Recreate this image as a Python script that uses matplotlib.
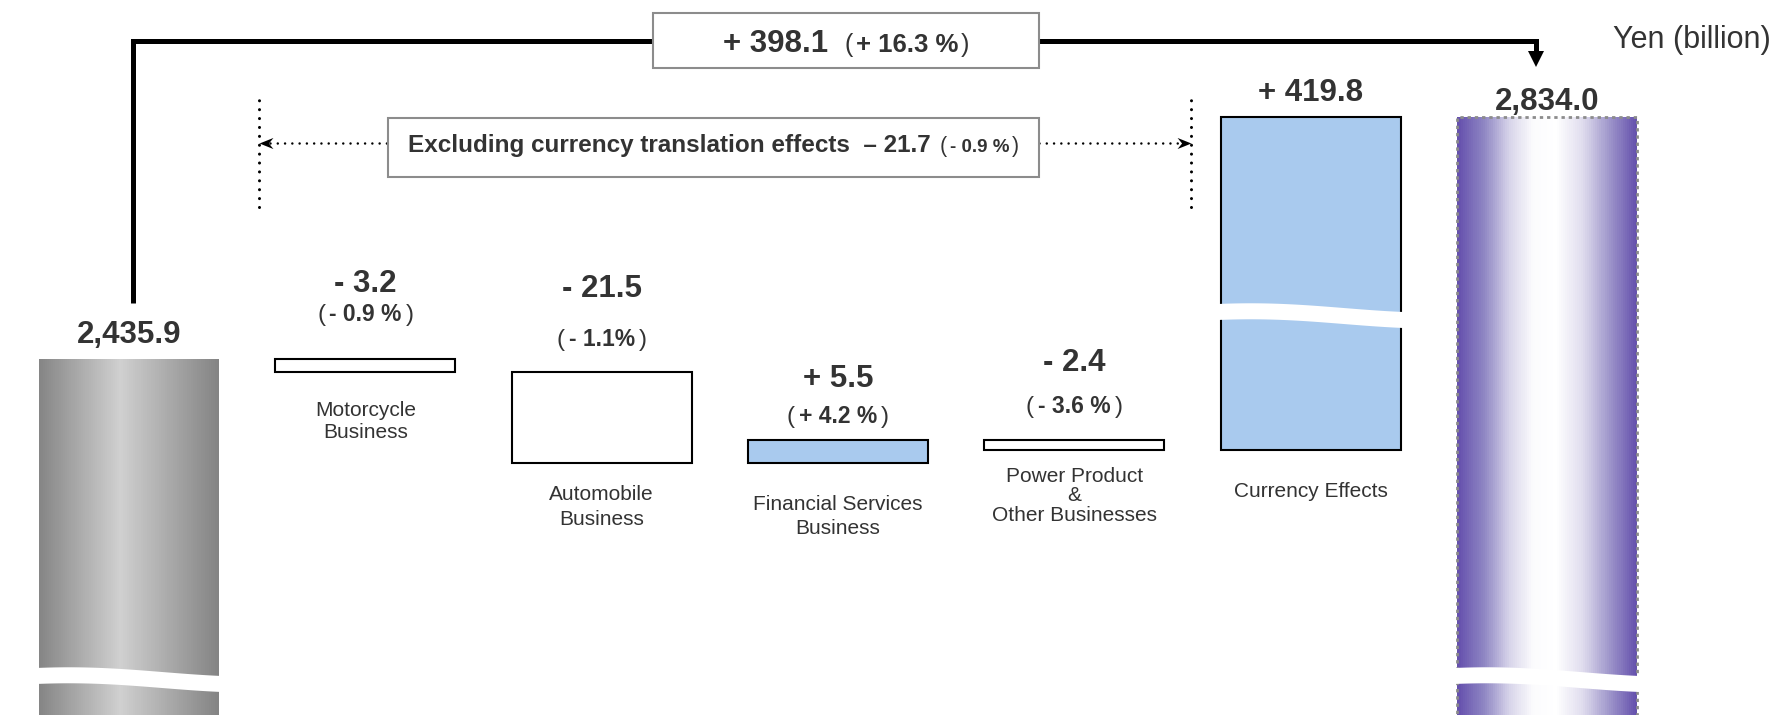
import matplotlib
matplotlib.use('Agg')
import matplotlib.pyplot as plt
import matplotlib.transforms as mtransforms
from matplotlib.colors import LinearSegmentedColormap
from matplotlib.offsetbox import TextArea, HPacker, AnnotationBbox
from matplotlib.patches import Rectangle, Polygon
import numpy as np

plt.rcParams['font.family'] = ['Liberation Sans', 'DejaVu Sans']

# ---- data (Yen billion) ----
start_value = 2435.9
end_value = 2834.0
start_label = '2,435.9'
end_label = '2,834.0'
segments = ['Motorcycle\nBusiness', 'Automobile\nBusiness', 'Financial Services\nBusiness',
            'Power Product\n&\nOther Businesses', 'Currency Effects']
changes = [-3.2, -21.5, 5.5, -2.4, 419.8]
change_labels = ['- 3.2', '- 21.5', '+ 5.5', '- 2.4', '+ 419.8']
pct_labels = ['- 0.9 %', '- 1.1%', '+ 4.2 %', '- 3.6 %', None]
total_label = '+ 398.1'
total_pct = '+ 16.3 %'
excl_label = 'Excluding currency translation effects  \u2013 21.7'
excl_pct = '- 0.9 %'
unit_label = 'Yen (billion)'

INK = '#333333'
BLUE = '#a9caee'
BOXEDGE = '#8c8c8c'
BAR_W = 0.762
H = 715.0

def fy(px):
    # pixel row from the top -> axes fraction
    return 1 - px / H

# broken axis: values above the start level are squeezed
BREAK = start_value
SQUEEZE = 0.1447

def fwd(v):
    v = np.asarray(v, float)
    return np.where(v > BREAK, BREAK + (v - BREAK) * SQUEEZE, v)

def inv(u):
    u = np.asarray(u, float)
    return np.where(u > BREAK, BREAK + (u - BREAK) / SQUEEZE, u)

fig = plt.figure(figsize=(17.8, 7.15), dpi=100)
ax = fig.add_axes([0, 0, 1, 1])
ax.set_axis_off()
ax.set_yscale('function', functions=(fwd, inv))
ax.set_xlim(-0.546, 6.986)
ax.set_ylim(2351.1, 3026.6)
trans = mtransforms.blended_transform_factory(ax.transData, ax.transAxes)

xpos = np.arange(len(changes) + 2)
lows, highs = [], []
level = start_value
for c in changes:
    lows.append(min(level, level + c))
    highs.append(max(level, level + c))
    level += c
lows = np.array(lows)
highs = np.array(highs)

steel = LinearSegmentedColormap.from_list('steel', [(0, '#868686'), (0.45, '#d0d0d0'), (1, '#848484')])
violet = LinearSegmentedColormap.from_list('violet', [(0, '#6550ad'), (0.15, '#9088c4'), (0.29, '#d8d5ea'),
                                                      (0.42, '#fbfbfd'), (0.55, '#ffffff'), (0.7, '#e0ddee'),
                                                      (0.84, '#a39bcd'), (1, '#6652ad')])

def gradient_bar(x, height, cmap, n=90):
    step = BAR_W / n
    xs = x - BAR_W / 2 + step * (np.arange(n) + 0.5)
    ax.bar(xs, height, width=step * 1.15, color=cmap(np.linspace(0, 1, n)), linewidth=0, zorder=1)

gradient_bar(xpos[0], start_value, steel)
gradient_bar(xpos[-1], end_value, violet)
ax.bar(xpos[-1], end_value, width=BAR_W, fill=False, edgecolor=BOXEDGE, linewidth=2,
       linestyle=(0, (1.2, 1.4)), zorder=2)

faces = ['white', 'white', BLUE, 'white', BLUE]
ax.bar(xpos[1:-1], highs - lows, bottom=lows, width=BAR_W, color=faces, edgecolor='black',
       linewidth=1.5, zorder=2)

# wavy breaks
def wave(x, y0):
    t = np.linspace(0, 1, 80)
    xs = x - BAR_W / 2 - 0.012 + t * (BAR_W + 0.024)
    dy = (8 * (1 - np.cos(np.pi * t)) / 2 - 2.5 * np.sin(np.pi * t)) / H
    band = 16 / H
    top = y0 + band / 2 - dy
    bot = y0 - band / 2 - dy
    pts = np.column_stack([np.r_[xs, xs[::-1]], np.r_[top, bot[::-1]]])
    ax.add_patch(Polygon(pts, closed=True, facecolor='white', edgecolor='none', transform=trans, zorder=4))

wave(xpos[0], fy(676))
wave(xpos[-1], fy(676))
wave(xpos[-2], fy(312))

# rich text helper (mixed sizes / weights on one baseline)
def rich(parts, xy, coords, off=(0, 0), align=(0.5, 0), sep=0):
    areas = [TextArea(s, textprops=dict(fontsize=fs, fontweight=w, color=INK)) for s, fs, w in parts]
    pack = HPacker(children=areas, align='baseline', pad=0, sep=sep)
    ab = AnnotationBbox(pack, xy, xycoords=coords, xybox=off, boxcoords='offset pixels',
                        frameon=False, box_alignment=align, pad=0, zorder=6)
    ax.add_artist(ab)

def desc(fs):
    return 0.212 * fs * 100 / 72

# value labels
ax.annotate(start_label, (xpos[0], start_value), xytext=(0, 16), textcoords='offset pixels',
            ha='center', va='baseline', fontsize=22.5, fontweight='bold', color=INK)
ax.annotate(end_label, (xpos[-1], end_value), xytext=(0, 7), textcoords='offset pixels',
            ha='center', va='baseline', fontsize=22.5, fontweight='bold', color=INK)

val_off = [67, 75, 53, 69, 16]
pct_off = [38, 27, 17, 27, 0]
cat_off = [29, 22, 32, 17, 32]
cat_ls = [1.2, 1.42, 1.36, 1.03, 1.2]
for i in range(len(changes)):
    x = xpos[i + 1]
    ax.annotate(change_labels[i], (x, highs[i]), xytext=(0, val_off[i]), textcoords='offset pixels',
                ha='center', va='baseline', fontsize=22.5, fontweight='bold', color=INK)
    if pct_labels[i]:
        rich([('(', 17.5, 'normal'), (pct_labels[i], 16.5, 'bold'), (')', 17.5, 'normal')],
             (x, highs[i]), ax.transData, off=(0, pct_off[i] - desc(17.5)), sep=3)
    ax.annotate(segments[i], (x, lows[i]), xytext=(0, -cat_off[i]), textcoords='offset pixels',
                ha='center', va='top', fontsize=15, color=INK, linespacing=cat_ls[i])

# total change connector
cx0, cx1 = 0.017, 5.955
conn_y = fy(41)
ax.plot([cx0, cx0, cx1, cx1], [fy(303), conn_y, conn_y, fy(58)], transform=trans, color='black',
        lw=3.6, solid_joinstyle='miter', solid_capstyle='butt', zorder=3)
ax.plot([cx1], [fy(59)], transform=trans, marker='v', ms=11.5, color='black', mew=0, zorder=3)

box_l, box_r = 2.217, 3.851
ax.add_patch(Rectangle((box_l, fy(68)), box_r - box_l, fy(13) - fy(68), transform=trans,
                       facecolor='white', edgecolor=BOXEDGE, lw=1.5, zorder=5))
rich([(total_label, 22.5, 'bold'), ('  (', 18, 'normal'), (total_pct, 18.5, 'bold'), (')', 18, 'normal')],
     ((box_l + box_r) / 2, fy(52)), trans, off=(0, -desc(22.5)), sep=2)

# excluding-currency bracket
ex_l = 1.096
bx0, bx1 = 0.55, 4.494
for bx in (bx0, bx1):
    ax.plot([bx, bx], [fy(207), fy(100)], transform=trans, color='black', lw=2.2,
            linestyle=(0, (0.01, 2.9)), dash_capstyle='round', zorder=3)
ey = fy(143)
ax.plot([bx0 + 0.045, ex_l], [ey, ey], transform=trans, color='black', lw=1.8,
        linestyle=(0, (0.01, 2.9)), dash_capstyle='round', zorder=3)
ax.plot([box_r, bx1 - 0.045], [ey, ey], transform=trans, color='black', lw=1.8,
        linestyle=(0, (0.01, 2.9)), dash_capstyle='round', zorder=3)
head = [(-1, 0), (1, 0.8), (0.35, 0), (1, -0.8), (-1, 0)]
ax.plot([bx0 + 0.029], [ey], transform=trans, marker=head, ms=10, color='black', mew=0, zorder=4)
ax.plot([bx1 - 0.029], [ey], transform=trans, marker=[(-x, y) for x, y in head], ms=10,
        color='black', mew=0, zorder=4)
ax.add_patch(Rectangle((ex_l, fy(177)), box_r - ex_l, fy(118) - fy(177), transform=trans,
                       facecolor='white', edgecolor=BOXEDGE, lw=1.5, zorder=5))
rich([(excl_label, 17.5, 'bold'), (' (', 15.5, 'normal'), (excl_pct, 13.5, 'bold'), (')', 15.5, 'normal')],
     ((ex_l + box_r) / 2, fy(152)), trans, off=(0, -desc(17.5)), sep=2)

ax.text(6.279, fy(48), unit_label, transform=trans, ha='left', va='baseline', fontsize=22, color=INK)

fig.savefig('out.png', dpi=100)
